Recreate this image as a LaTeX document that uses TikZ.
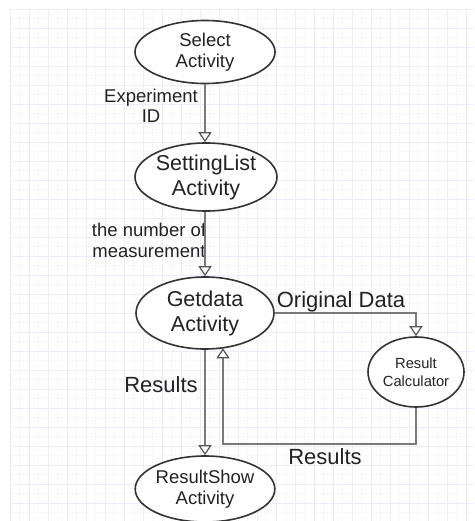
\documentclass[tikz,border=0pt]{standalone}
\usepackage{fontspec}
\setmainfont{Liberation Sans}
\usetikzlibrary{shapes.geometric,arrows.meta}
\definecolor{gridminor}{HTML}{F7F7FE}
\definecolor{gridmajor}{HTML}{EEEEFB}
\definecolor{linegray}{HTML}{7A7A7A}
\definecolor{tipgray}{HTML}{555555}
\definecolor{txt}{HTML}{222222}
\tikzset{
  act/.style={ellipse, draw=black!80, line width=1.6pt, fill=white, inner sep=0pt, align=center, text=txt},
  conn/.style={draw=linegray, line width=1.8pt, -{Triangle[width=13pt,length=10pt,fill=white,line width=1.2pt,color=tipgray]}},
  lbl/.style={align=center, text=txt, inner sep=0pt},
}
\begin{document}
\begin{tikzpicture}[x=1pt,y=-1pt]
\useasboundingbox (0,0) rectangle (474,521);
\fill[white] (0,0) rectangle (474,521);
% grid
\foreach \i in {0,...,49} {
  \draw[gridminor, line width=0.8pt] ({10+9.5*\i},9) -- ({10+9.5*\i},521);
}
\foreach \i in {0,...,54} {
  \draw[gridminor, line width=0.8pt] (10,{9+9.5*\i}) -- (474,{9+9.5*\i});
}
\foreach \i in {0,...,24} {
  \draw[gridmajor, line width=0.9pt] ({10+19*\i},9) -- ({10+19*\i},521);
}
\foreach \i in {0,...,27} {
  \draw[gridmajor, line width=0.9pt] (10,{9+19*\i}) -- (474,{9+19*\i});
}
% nodes
\node[act, minimum width=140pt, minimum height=63pt, font=\fontsize{18.5}{21}\selectfont] (sel) at (205,52) {Select\\Activity};
\node[act, minimum width=128pt, minimum height=68pt, font=\fontsize{21.5}{25}\selectfont] (set) at (206,177) {SettingList\\Activity};
\node[act, minimum width=138pt, minimum height=72pt, font=\fontsize{21.5}{25}\selectfont] (get) at (205,313) {Getdata\\Activity};
\node[act, minimum width=96pt, minimum height=70pt, font=\fontsize{14.7}{18}\selectfont] (calc) at (416,372) {Result\\Calculator};
\node[act, minimum width=136pt, minimum height=66pt, font=\fontsize{18.5}{21}\selectfont] (show) at (205,489) {ResultShow\\Activity};
% labels
\node[lbl, font=\fontsize{18.5}{20.5}\selectfont] (l1) at (151,106) {Experiment\\ID};
\node[lbl, font=\fontsize{18.5}{21}\selectfont] (l2) at (149,240) {the number of\\measurement};
\node[lbl, font=\fontsize{22}{26}\selectfont] (l3) at (341,302) {Original Data};
\node[lbl, font=\fontsize{22}{26}\selectfont] (l4) at (161,385) {Results};
\node[lbl, font=\fontsize{22}{26}\selectfont] (l5) at (325,457) {Results};
% connectors
\draw[conn] (sel.south) -- (set.north -| sel.south);
\draw[conn] (set.south -| sel.south) -- (get.north);
\draw[conn] (get.south) -- (show.north);
\draw[conn] (get.east) -| (calc.north);
\coordinate (ret) at (223,444);
\draw[conn] (calc.south) |- (ret) -- (ret |- get.-61);
\end{tikzpicture}
\end{document}
